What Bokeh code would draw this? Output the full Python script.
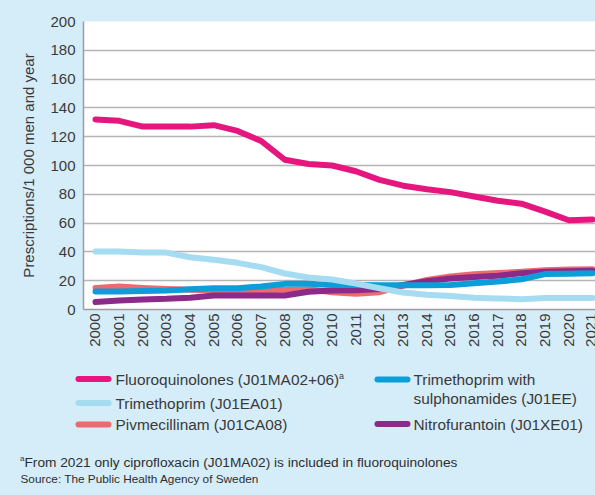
import math
from bokeh.plotting import figure
from bokeh.layouts import column
from bokeh.models import Range1d, FixedTicker
from bokeh.core.properties import value
from bokeh.embed import file_html
from bokeh.resources import INLINE

# ---------------- data ----------------
years = list(range(2000, 2022))
fluoroquinolones = [132, 131, 127, 127, 127, 128, 124, 117, 104, 101, 100, 96,
                    90, 86, 83.5, 81.5, 78.5, 75.5, 73.5, 68, 62, 62.5]
trimethoprim = [40.3, 40.2, 39.6, 39.5, 36.3, 34.5, 32.4, 29.4, 25, 22.2, 20.8, 18,
                14.8, 11.8, 10.2, 9.3, 8.1, 7.6, 7.2, 8, 8, 8]
pivmecillinam = [15, 16, 15, 14.3, 13.8, 13.2, 12.8, 13, 13.8, 14, 12, 11,
                 12, 16.5, 20.5, 23, 24.5, 25.3, 26.2, 27.3, 27.8, 28]
trim_sulpha = [12.5, 12.5, 12.8, 13.2, 14, 14.8, 14.8, 16, 17.8, 17.8, 17, 17,
               16.8, 16.8, 16.8, 17, 18.2, 19.4, 21, 24.6, 24.8, 25.2]
nitrofurantoin = [5.2, 6.3, 7, 7.4, 8.2, 9.7, 9.7, 9.7, 9.7, 12.3, 13.2, 13.3,
                  14.3, 17, 19.7, 21.5, 22.6, 23.5, 25.2, 26.3, 26.6, 26.9]

series_names = ["Fluoroquinolones (J01MA02+06)", "Trimethoprim (J01EA01)",
                "Pivmecillinam (J01CA08)", "Trimethoprim with",
                "sulphonamides (J01EE)", "Nitrofurantoin (J01XE01)"]
y_ticks = list(range(0, 201, 20))
y_title = "Prescriptions/1 000 men and year"
footnote = "From 2021 only ciprofloxacin (J01MA02) is included in fluoroquinolones"
source = "Source: The Public Health Agency of Sweden"

# ---------------- styles ----------------
BG = "#d5ecf9"
C_FLUORO = "#e5177f"
C_TRIM = "#a5dcf1"
C_PIV = "#ec6b70"
C_TWS = "#0c9ed9"
C_NITRO = "#8c2a8a"
TXT = "#3a3a3a"
FONT = value("Liberation Sans")

W = 595
H1 = 355
H2 = 140

# ---------------- main chart ----------------
p = figure(width=W, height=H1,
           x_range=Range1d(1999.493, 2021.127), y_range=Range1d(0, 200),
           output_backend="svg", toolbar_location=None,
           min_border_left=83, min_border_right=0, min_border_top=21,
           min_border_bottom=H1 - 21 - 288,
           background_fill_color="white", border_fill_color=BG,
           outline_line_color=None)
p.frame_align = False

lw = 6
p.line(years, pivmecillinam, line_color=C_PIV, line_width=lw, line_cap="round", line_join="round")
p.line(years, nitrofurantoin, line_color=C_NITRO, line_width=lw, line_cap="round", line_join="round")
p.line(years, trim_sulpha, line_color=C_TWS, line_width=lw, line_cap="round", line_join="round")
p.line(years, trimethoprim, line_color=C_TRIM, line_width=lw, line_cap="round", line_join="round")
p.line(years, fluoroquinolones, line_color=C_FLUORO, line_width=lw, line_cap="round", line_join="round")

p.xaxis.ticker = FixedTicker(ticks=years)
p.yaxis.ticker = FixedTicker(ticks=y_ticks)
p.xgrid.grid_line_color = None
p.ygrid.grid_line_color = "#b4b4b4"
p.ygrid.grid_line_width = 1.5

for ax in (p.xaxis[0], p.yaxis[0]):
    ax.axis_line_color = "#9c9c9c"
    ax.axis_line_width = 1.5
    ax.major_tick_line_color = None
    ax.minor_tick_line_color = None
    ax.major_tick_out = 0
    ax.major_tick_in = 0
    ax.major_label_text_font = "Liberation Sans"
    ax.major_label_text_font_size = "15px"
    ax.major_label_text_color = TXT

p.xaxis.major_label_orientation = math.pi / 2
p.xaxis.major_label_standoff = 4
p.yaxis.major_label_standoff = 8
p.yaxis.axis_label = y_title
p.yaxis.axis_label_text_font = "Liberation Sans"
p.yaxis.axis_label_text_font_size = "15px"
p.yaxis.axis_label_text_font_style = "normal"
p.yaxis.axis_label_text_color = TXT
p.yaxis.axis_label_standoff = 10

# ---------------- legend + notes (page coordinates) ----------------
q = figure(width=W, height=H2, x_range=Range1d(0, W), y_range=Range1d(H1 + H2, H1),
           output_backend="svg", toolbar_location=None,
           x_axis_type=None, y_axis_type=None, min_border=0,
           background_fill_color=BG, border_fill_color=BG, outline_line_color=None)
q.frame_align = False
q.grid.visible = False

leg_x0 = [78, 78, 78, 377, 377]
leg_x1 = [108, 108, 108, 407, 407]
leg_y = [378.5, 402.5, 424, 379, 423.5]
leg_c = [C_FLUORO, C_TRIM, C_PIV, C_TWS, C_NITRO]
q.segment(x0=leg_x0, y0=leg_y, x1=leg_x1, y1=leg_y, line_color=leg_c,
          line_width=6, line_cap="round")

q.text(x=[115, 115, 115, 413, 413, 413],
       y=[378.5, 402.5, 424, 379, 398, 423.5],
       text=series_names,
       text_font=FONT, text_font_size="15.4px", text_color=TXT,
       text_baseline="middle", text_align="left")
q.text(x=[338.5], y=[375], text=["a"], text_font=FONT, text_font_size="9px",
       text_color=TXT, text_baseline="middle")

q.text(x=[19.5], y=[457.5], text=["a"], text_font=FONT, text_font_size="8px",
       text_color=TXT, text_baseline="middle")
q.text(x=[24], y=[462], text=[footnote], text_font=FONT, text_font_size="13.7px",
       text_color="#2e2e2e", text_baseline="middle")
q.text(x=[20], y=[478.5], text=[source], text_font=FONT, text_font_size="11.8px",
       text_color="#2e2e2e", text_baseline="middle")

layout = column(p, q, spacing=0)
layout.styles = {"background-color": BG}
open("out.html", "w").write(file_html(layout, INLINE))
